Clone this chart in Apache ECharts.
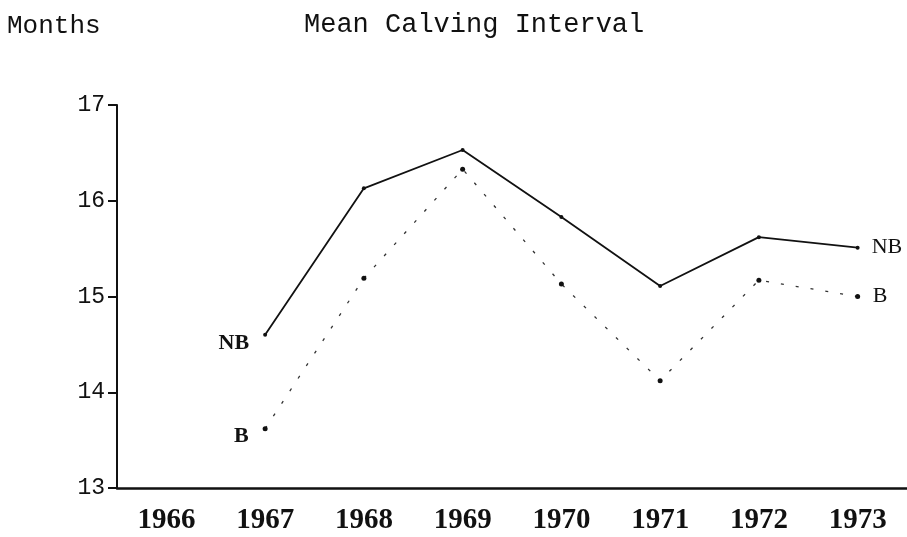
<!DOCTYPE html>
<html>
<head>
<meta charset="utf-8">
<script src="https://cdn.jsdelivr.net/npm/echarts@6/dist/echarts.min.js"></script>
<style>
html, body { margin: 0; padding: 0; background: #fff; }
#chart { width: 907px; height: 537px; }
</style>
</head>
<body>
<div id="chart"></div>
<script>
// years on the x axis
const years = ['1966', '1967', '1968', '1969', '1970', '1971', '1972', '1973']
// mean calving interval in months, no value for 1966
const nbValues = [null, 14.6, 16.13, 16.53, 15.83, 15.11, 15.62, 15.51]
const bValues = [null, 13.62, 15.19, 16.33, 15.13, 14.12, 15.17, 15.0]

const INK = '#111'
const MONO = '"Liberation Mono", "DejaVu Sans Mono", monospace'
const SERIF = '"Liberation Serif", "DejaVu Serif", serif'

// label on the first point of a series, to the left
function startLabel(text, offY){
  return {
    show: true,
    position: 'left',
    distance: 14,
    offset: [0, offY],
    formatter: text,
    color: INK,
    fontFamily: SERIF,
    fontSize: 22,
    fontWeight: 'bold'
  }
}

function withStartLabel(values, text, offY){
  return values.map((v, i) => {
    if(i === 1){
      return {value: v, label: startLabel(text, offY)}
    }
    return v
  })
}

let chart = echarts.init(document.getElementById('chart'))
let chartOpt = {
  backgroundColor: '#fff',
  animation: false,
  title: [{
    text: 'Mean Calving Interval',
    left: 299,
    top: 6,
    textStyle: {fontFamily: MONO, fontSize: 27, fontWeight: 'normal', color: INK}
  }, {
    text: 'Months',
    left: 2,
    top: 8,
    textStyle: {fontFamily: MONO, fontSize: 26, fontWeight: 'normal', color: INK}
  }],
  grid: {left: 117, right: 0, top: 105, bottom: 49},
  xAxis: {
    type: 'category',
    data: years,
    boundaryGap: true,
    axisLine: {lineStyle: {color: INK, width: 2.5}},
    axisTick: {show: false},
    axisLabel: {color: INK, fontFamily: SERIF, fontSize: 29, fontWeight: 'bold', margin: 18}
  },
  yAxis: {
    type: 'value',
    min: 13,
    max: 17,
    interval: 1,
    splitLine: {show: false},
    axisLine: {show: true, lineStyle: {color: INK, width: 2}},
    axisTick: {show: true, length: 9, lineStyle: {color: INK, width: 2}},
    axisLabel: {color: INK, fontFamily: MONO, fontSize: 23, margin: 12}
  },
  series: [{
    name: 'NB',
    type: 'line',
    data: withStartLabel(nbValues, 'NB', 9),
    symbol: 'circle',
    symbolSize: 4,
    itemStyle: {color: INK},
    lineStyle: {color: INK, width: 1.8},
    endLabel: {
      show: true,
      formatter: 'NB',
      distance: 14,
      color: INK,
      fontFamily: SERIF,
      fontSize: 22
    }
  }, {
    name: 'B',
    type: 'line',
    data: withStartLabel(bValues, 'B', 8),
    symbol: 'circle',
    symbolSize: 5,
    itemStyle: {color: INK},
    lineStyle: {color: '#333', width: 1.3, type: [3, 12]},
    endLabel: {
      show: true,
      formatter: 'B',
      distance: 15,
      color: INK,
      fontFamily: SERIF,
      fontSize: 22
    }
  }]
}
chart.setOption(chartOpt)
</script>
</body>
</html>
